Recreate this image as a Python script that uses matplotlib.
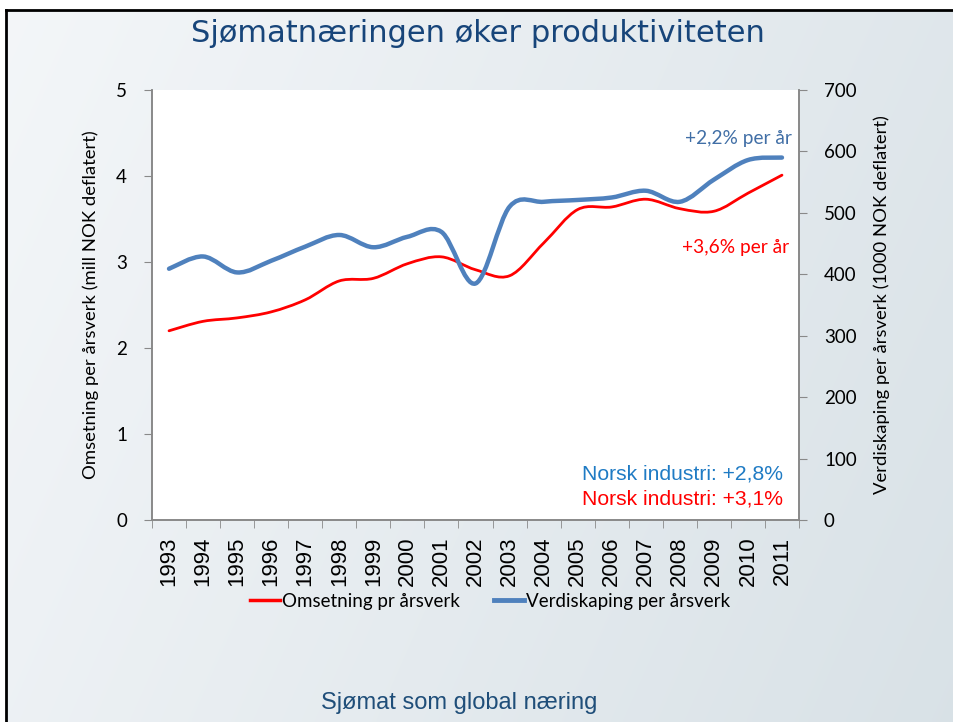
import numpy as np
import matplotlib.pyplot as plt
from matplotlib.path import Path
from matplotlib.patches import PathPatch
from matplotlib.lines import Line2D

# Data
aar = ['1993', '1994', '1995', '1996', '1997', '1998', '1999', '2000', '2001', '2002',
       '2003', '2004', '2005', '2006', '2007', '2008', '2009', '2010', '2011']
omsetning = [2.20, 2.31, 2.35, 2.42, 2.56, 2.78, 2.81, 2.98, 3.06, 2.91,
             2.84, 3.22, 3.61, 3.64, 3.73, 3.62, 3.59, 3.80, 4.01]
verdiskaping = [409, 429, 403, 422, 445, 464, 444, 461, 469, 385,
                510, 518, 521, 525, 536, 518, 554, 586, 590]

venstre_ticks = [0, 1, 2, 3, 4, 5]
hoyre_ticks = [0, 100, 200, 300, 400, 500, 600, 700]

BLA = '#4f81bd'
ROD = '#ff0000'
W, H = 954, 722


# Glatt linje som i Excel (Bezier gjennom hvert punkt)
def glatt_sti(x, y):
    n = len(x)
    verts = [(x[0], y[0])]
    codes = [Path.MOVETO]
    for i in range(n - 1):
        a = max(i - 1, 0)
        b = min(i + 2, n - 1)
        c1 = (x[i] + (x[i + 1] - x[a]) / 6, y[i] + (y[i + 1] - y[a]) / 6)
        c2 = (x[i + 1] - (x[b] - x[i]) / 6, y[i + 1] - (y[b] - y[i]) / 6)
        verts += [c1, c2, (x[i + 1], y[i + 1])]
        codes += [Path.CURVE4] * 3
    return Path(verts, codes)


fig = plt.figure(figsize=(W / 100, H / 100), dpi=100)

# bakgrunn for lysbildet
bg = fig.add_axes([0, 0, 1, 1], zorder=-5)
bg.set_xlim(0, W)
bg.set_ylim(H, 0)
bg.axis('off')
gx = np.linspace(0, 1, 200)
gy = np.linspace(0, 1, 150)
GX, GY = np.meshgrid(gx, gy)
t = np.clip(0.75 * GX + 0.25 * GY, 0, 1)
lys = np.array([0.955, 0.965, 0.975])
mork = np.array([0.85, 0.885, 0.905])
bilde = lys[None, None, :] * (1 - t[..., None]) + mork[None, None, :] * t[..., None]
bg.imshow(bilde, extent=(6, W, H, 10), aspect='auto', interpolation='bilinear')
bg.plot([6, 6], [10, H], color='black', lw=2)
bg.plot([6, W], [10, 10], color='black', lw=2)

fig.text(478 / W, 1 - 34 / H, 'Sjømatnæringen øker produktiviteten', ha='center', va='center',
         fontsize=22, color='#17457a', family='DejaVu Sans')
fig.text(459 / W, 1 - 703 / H, 'Sjømat som global næring', ha='center', va='center',
         fontsize=17, color='#1f4e79', family='Liberation Sans')

ax = fig.add_axes([152 / W, 1 - 520 / H, (799 - 152) / W, (520 - 90) / H])
ax.set_facecolor('white')
ax2 = ax.twinx()

x = np.arange(len(aar))
ax.add_patch(PathPatch(glatt_sti(x, omsetning), fill=False, edgecolor=ROD, lw=2.0,
                       capstyle='round', joinstyle='round'))
ax2.add_patch(PathPatch(glatt_sti(x, verdiskaping), fill=False, edgecolor=BLA, lw=3.2,
                        capstyle='round', joinstyle='round'))

ax.set_xlim(-0.5, len(aar) - 0.5)
ax.set_ylim(0, 5)
ax2.set_ylim(0, 700)
ax.set_yticks(venstre_ticks)
ax2.set_yticks(hoyre_ticks)
ax.set_xticks(x)
ax.set_xticklabels(aar, rotation=90, fontsize=16, family='Liberation Sans')
ax.set_xticks(np.arange(-0.5, len(aar), 1), minor=True)
ax.tick_params(axis='x', which='major', length=0, pad=12)
ax.tick_params(axis='x', which='minor', length=6, color='#898989', direction='out')
ax.tick_params(axis='y', length=6, color='#898989', labelsize=13.5, pad=12)
ax2.tick_params(axis='y', length=6, color='#898989', labelsize=13.5, pad=12)
for lab in ax.get_yticklabels() + ax2.get_yticklabels():
    lab.set_family('Lato')

for a in (ax, ax2):
    a.spines['top'].set_visible(False)
    for s in ('left', 'right', 'bottom'):
        a.spines[s].set_color('#898989')
        a.spines[s].set_linewidth(1.2)

ax.set_ylabel('Omsetning per årsverk (mill NOK deflatert)', fontsize=13.3, family='Lato', labelpad=12)
ax2.set_ylabel('Verdiskaping per årsverk (1000 NOK deflatert)', fontsize=13.3, family='Lato', labelpad=12)

ax.text(18.3, 4.44, '+2,2% per år', color='#416fa6', fontsize=13.8, family='Lato', ha='right', va='center')
ax.text(18.2, 3.17, '+3,6% per år', color=ROD, fontsize=13.8, family='Lato', ha='right', va='center')
ax.text(18.03, 0.53, 'Norsk industri: +2,8%', color='#1f7bc4', fontsize=15.2, family='Liberation Sans',
        ha='right', va='center')
ax.text(18.03, 0.24, 'Norsk industri: +3,1%', color=ROD, fontsize=15.2, family='Liberation Sans',
        ha='right', va='center')

handles = [Line2D([], [], color=ROD, lw=2.5), Line2D([], [], color=BLA, lw=3.5)]
fig.legend(handles, ['Omsetning pr årsverk', 'Verdiskaping per årsverk'], loc='center',
           bbox_to_anchor=(490 / W, 1 - 601 / H), ncol=2, frameon=False, handlelength=1.6,
           handletextpad=0.1, columnspacing=1.8, prop={'family': 'Lato', 'size': 13.5})

fig.savefig('out.png', dpi=100)
